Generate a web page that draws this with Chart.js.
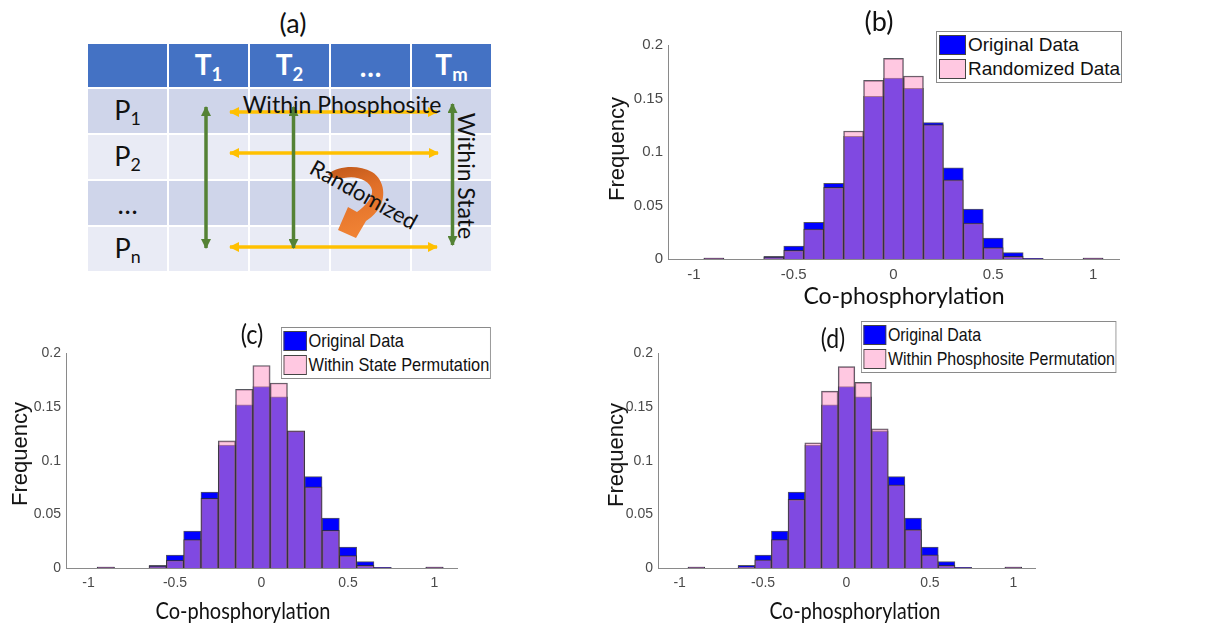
<!DOCTYPE html>
<html lang="en">
<head>
<meta charset="UTF-8">
<title>Co-phosphorylation histograms</title>
<script src="https://cdn.jsdelivr.net/npm/chart.js"></script>
<style>
  body { margin: 0; background: #fff; }
  #fig { position: relative; width: 1223px; height: 626px; overflow: hidden; background: #fff; }
  .lbl { position: absolute; white-space: nowrap; color: #111; font-family: Lato, sans-serif; line-height: 1; }
  .lbl.arial { font-family: "Liberation Sans", Arial, sans-serif; }
  .chartbox { position: absolute; }
  .legend { position: absolute; background: #fff; border: 1px solid #8a8a8a; padding: 1px 1px 1px 2px;
            transform-origin: left top; z-index: 5; font-family: "Liberation Sans", Arial, sans-serif; font-size: 19px; color: #111; }
  .legend .row { display: flex; align-items: center; height: 24px; }
  .legend .sw { width: 27px; height: 20px; box-sizing: border-box; border: 1px solid #444; margin-right: 2px; }
  #tbl { position: absolute; left: 86px; top: 42px; border-collapse: collapse; table-layout: fixed; font-family: Lato, sans-serif; }
  #tbl td { border: 2px solid #fff; width: 79px; padding: 0; text-align: center; }
  #tbl tr.hd td { background: #4472c4; color: #fff; font-weight: bold; font-size: 28px; height: 43px; }
  #tbl tr.r1 td { background: #cfd5ea; height: 44px; }
  #tbl tr.r2 td { background: #e9ebf5; height: 44px; }
  #tbl td.rowlab { font-size: 27px; color: #111; }
  #tbl sub { font-size: 0.66em; vertical-align: -0.3em; }
</style>
</head>
<body>
<div id="fig">
  <div class="lbl" style="left:293px;top:22px;font-size:27px;transform:translate(-50%,-50%)">(a)</div>
  <table id="tbl">
    <tr class="hd"><td></td><td>T<sub>1</sub></td><td>T<sub>2</sub></td><td>…</td><td>T<sub>m</sub></td></tr>
    <tr class="r1"><td class="rowlab">P<sub>1</sub></td><td></td><td></td><td></td><td></td></tr>
    <tr class="r2"><td class="rowlab">P<sub>2</sub></td><td></td><td></td><td></td><td></td></tr>
    <tr class="r1"><td class="rowlab">…</td><td></td><td></td><td></td><td></td></tr>
    <tr class="r2"><td class="rowlab">P<sub>n</sub></td><td></td><td></td><td></td><td></td></tr>
  </table>
  <svg width="1223" height="300" style="position:absolute;left:0;top:0" font-family="Lato, sans-serif">
    <defs>
      <marker id="hg" viewBox="0 0 10 10" refX="9" refY="5" markerUnits="userSpaceOnUse" markerWidth="11" markerHeight="10" orient="auto-start-reverse">
        <path d="M0,0 L10,5 L0,10 z" fill="#548235"/>
      </marker>
      <marker id="ho" viewBox="0 0 10 10" refX="9" refY="5" markerUnits="userSpaceOnUse" markerWidth="11" markerHeight="10" orient="auto-start-reverse">
        <path d="M0,0 L10,5 L0,10 z" fill="#ffc000"/>
      </marker>
      <linearGradient id="og" x1="0" y1="0" x2="0.2" y2="1">
        <stop offset="0" stop-color="#c0581a"/>
        <stop offset="0.4" stop-color="#e06f28"/>
        <stop offset="1" stop-color="#f08234"/>
      </linearGradient>
    </defs>
    <g stroke="#ffc000" stroke-width="3.5" marker-start="url(#ho)" marker-end="url(#ho)">
      <line x1="230" y1="112" x2="437" y2="112"/>
      <line x1="230" y1="153" x2="438" y2="153"/>
      <line x1="230" y1="247" x2="437" y2="247"/>
    </g>
    <g stroke="#548235" stroke-width="3.5" marker-start="url(#hg)" marker-end="url(#hg)">
      <line x1="206" y1="107" x2="206" y2="248"/>
      <line x1="293.5" y1="107" x2="293.5" y2="248"/>
      <line x1="452.5" y1="104" x2="452.5" y2="245"/>
    </g>
    <path d="M328,174 C338,166 358,164 372,172 C385,180 387,199 377,211 C373,216 369,219 366,221 L356,238 L338,230 L348,207 L357,212 C365,206 373,198 372,190 C370,180 356,175 344,178 C338,179 333,180 328,174 Z"
          fill="url(#og)"/>
    <text x="342" y="113" font-size="23" text-anchor="middle" fill="#111">Within Phosphosite</text>
    <text x="0" y="0" font-size="23" text-anchor="middle" dominant-baseline="central" fill="#111" transform="translate(467,176) rotate(90)">Within State</text>
    <text x="0" y="0" font-size="22" text-anchor="middle" dominant-baseline="central" fill="#111" transform="translate(364,194) rotate(29)">Randomized</text>
  </svg>
</div>

<script>
// histogram bins (centres) and relative frequencies
const binCenters = [-1.0, -0.9, -0.8, -0.7, -0.6, -0.5, -0.4, -0.3, -0.2, -0.1, 0.0,
                    0.1, 0.2, 0.3, 0.4, 0.5, 0.6, 0.7, 0.8, 0.9, 1.0];
const originalFreq = [0, 0.0008, 0, 0, 0.0025, 0.012, 0.0343, 0.0707, 0.1146, 0.152, 0.169,
                      0.1595, 0.1275, 0.0852, 0.0466, 0.0196, 0.006, 0.0007, 0, 0, 0.0008];
const randomizedFreq = [0, 0.0008, 0, 0, 0.0015, 0.008, 0.028, 0.067, 0.1196, 0.167, 0.1875,
                        0.171, 0.1257, 0.074, 0.0336, 0.0107, 0.0024, 0.0005, 0, 0, 0.0008];
const withinStateFreq = [0, 0.0008, 0, 0, 0.0015, 0.0072, 0.0266, 0.065, 0.1185, 0.1666, 0.1887,
                         0.1724, 0.1278, 0.0757, 0.0352, 0.0116, 0.0025, 0.0005, 0, 0, 0.0008];
const withinPhosphositeFreq = [0, 0.0008, 0, 0, 0.0012, 0.0077, 0.0266, 0.064, 0.1167, 0.1648, 0.1877,
                               0.173, 0.1296, 0.0775, 0.0358, 0.0123, 0.0025, 0.0005, 0, 0, 0.0008];
const xTickValues = [-1, -0.5, 0, 0.5, 1];
const xTickLabels = ['-1', '-0.5', '0', '0.5', '1'];
const yTickValues = [0, 0.05, 0.1, 0.15, 0.2];
const yTickLabels = ['0', '0.05', '0.1', '0.15', '0.2'];
const seriesLabels = ['Original Data', 'Randomized Data', 'Within State Permutation', 'Within Phosphosite Permutation'];

const blue = '#0000ff';
const pinkFill = 'rgba(255,145,195,0.5)';
const pinkSwatch = '#ffc8e1';
const edge = 'rgba(45,45,55,0.8)';

// where each panel sits in the 1223x626 picture
const panels = [
  { name: '(b)', compare: randomizedFreq, label: seriesLabels[1], sx: 1, lsx: 1, tick: 15,
    area: { l: 668, t: 41, r: 1119, b: 259 }, title: [879, 20], xTitle: [904, 295], yTitle: [617, 149], legend: [936, 31] },
  { name: '(c)', compare: withinStateFreq, label: seriesLabels[2], sx: 0.87, lsx: 0.86, tick: 14,
    area: { l: 66, t: 350, r: 457, b: 568 }, title: [252, 333], xTitle: [243, 610], yTitle: [19.5, 454], legend: [281, 327] },
  { name: '(d)', compare: withinPhosphositeFreq, label: seriesLabels[3], sx: 0.85, lsx: 0.84, tick: 14,
    area: { l: 658, t: 350, r: 1035, b: 568 }, title: [833, 337], xTitle: [855, 610], yTitle: [616, 455], legend: [861, 321] }
];

const fig = document.getElementById('fig');
const YW = 45, XH = 30, PT = 10, PR = 8;

function addLabel(text, x, y, size, extra, cls) {
  const d = document.createElement('div');
  d.className = 'lbl' + (cls ? ' ' + cls : '');
  d.textContent = text;
  d.style.left = x + 'px';
  d.style.top = y + 'px';
  d.style.fontSize = size + 'px';
  d.style.transform = 'translate(-50%,-50%) ' + (extra || '');
  fig.appendChild(d);
}

function toPoints(vals) {
  return binCenters.map((c, i) => ({ x: c, y: vals[i] }));
}

panels.forEach(p => {
  const a = p.area;
  const box = document.createElement('div');
  box.className = 'chartbox';
  const w = a.r - a.l + YW + PR, h = a.b - a.t + PT + XH;
  box.style.left = (a.l - YW) + 'px';
  box.style.top = (a.t - PT) + 'px';
  const cv = document.createElement('canvas');
  cv.width = w; cv.height = h;
  cv.style.width = w + 'px'; cv.style.height = h + 'px';
  box.appendChild(cv);
  fig.appendChild(box);

  const tickFont = { family: 'Liberation Sans', size: p.tick };
  new Chart(cv.getContext('2d'), {
    type: 'bar',
    data: {
      datasets: [
        { label: p.label, data: toPoints(p.compare), backgroundColor: pinkFill,
          borderColor: edge, borderWidth: 1, order: 1 },
        { label: seriesLabels[0], data: toPoints(originalFreq), backgroundColor: blue,
          borderColor: edge, borderWidth: 1, order: 2 }
      ]
    },
    options: {
      responsive: false,
      animation: false,
      layout: { padding: { top: PT, right: PR, left: 0, bottom: 0 } },
      datasets: { bar: { grouped: false, barPercentage: 1, categoryPercentage: 1 } },
      plugins: { legend: { display: false }, tooltip: { enabled: false } },
      scales: {
        x: {
          type: 'linear', min: -1.13, max: 1.13, offset: false,
          grid: { display: false, drawTicks: false },
          border: { color: '#8a8a8a' },
          ticks: { padding: 7, maxRotation: 0, color: '#4a4a4a', font: tickFont,
                   callback: (v, i) => xTickLabels[i] },
          afterBuildTicks: s => { s.ticks = xTickValues.map(v => ({ value: v })); },
          afterFit: s => { s.height = XH; }
        },
        y: {
          min: 0, max: 0.2,
          grid: { display: false, drawTicks: false },
          border: { color: '#8a8a8a' },
          ticks: { padding: 5, color: '#4a4a4a', font: tickFont,
                   callback: (v, i) => yTickLabels[i] },
          afterBuildTicks: s => { s.ticks = yTickValues.map(v => ({ value: v })); },
          afterFit: s => { s.width = YW; }
        }
      }
    }
  });

  addLabel(p.name, p.title[0], p.title[1], 27, 'scaleX(' + p.sx + ')');
  addLabel('Co-phosphorylation', p.xTitle[0], p.xTitle[1], 23, 'scaleX(' + p.sx + ')');
  addLabel('Frequency', p.yTitle[0], p.yTitle[1], 22, 'rotate(-90deg)', 'arial');

  const lg = document.createElement('div');
  lg.className = 'legend';
  lg.style.left = p.legend[0] + 'px';
  lg.style.top = p.legend[1] + 'px';
  lg.style.transform = 'scaleX(' + p.lsx + ')';
  [[seriesLabels[0], blue], [p.label, pinkSwatch]].forEach(([t, c]) => {
    const row = document.createElement('div');
    row.className = 'row';
    const sw = document.createElement('div');
    sw.className = 'sw';
    sw.style.background = c;
    const tx = document.createElement('span');
    tx.textContent = t;
    row.appendChild(sw); row.appendChild(tx);
    lg.appendChild(row);
  });
  fig.appendChild(lg);
});
</script>
</body>
</html>
